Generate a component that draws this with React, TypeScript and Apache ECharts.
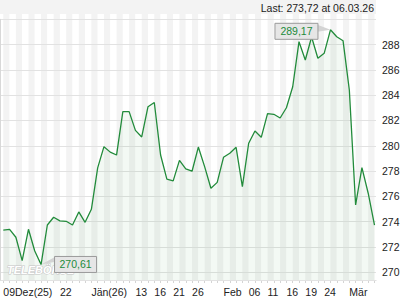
import React, { useEffect, useRef } from 'react';
import * as echarts from 'echarts';

const dates = [
  '09.12.25', '10.12.25', '11.12.25', '12.12.25', '15.12.25', '16.12.25', '17.12.25', '18.12.25', '19.12.25', '22.12.25',
  '23.12.25', '29.12.25', '30.12.25', '31.12.25', '02.01.26', '05.01.26', '06.01.26', '07.01.26', '08.01.26', '09.01.26',
  '12.01.26', '13.01.26', '14.01.26', '15.01.26', '16.01.26', '19.01.26', '20.01.26', '21.01.26', '22.01.26', '23.01.26',
  '26.01.26', '27.01.26', '28.01.26', '29.01.26', '30.01.26', '02.02.26', '03.02.26', '04.02.26', '05.02.26', '06.02.26',
  '09.02.26', '10.02.26', '11.02.26', '12.02.26', '13.02.26', '16.02.26', '17.02.26', '18.02.26', '19.02.26', '20.02.26',
  '23.02.26', '24.02.26', '25.02.26', '26.02.26', '27.02.26', '02.03.26', '03.03.26', '04.03.26', '05.03.26', '06.03.26',
];

const values = [
  273.34, 273.40, 272.77, 270.92, 273.40, 271.68, 270.61, 273.74, 274.35, 274.06,
  274.03, 273.74, 274.77, 273.95, 274.98, 278.25, 279.93, 279.50, 279.27, 282.70,
  282.70, 281.22, 280.70, 283.09, 283.42, 279.27, 277.36, 277.23, 278.85, 278.18,
  277.99, 279.90, 278.35, 276.64, 277.11, 279.09, 279.41, 279.88, 276.77, 280.20,
  281.17, 280.67, 282.54, 282.49, 282.20, 283.01, 284.67, 288.23, 286.78, 288.60,
  286.92, 287.31, 289.17, 288.62, 288.31, 284.41, 275.32, 278.27, 276.25, 273.72,
];

const tickIndex = [0, 9, 14, 21, 24, 27, 30, 35, 39, 42, 45, 48, 51, 55];
const tickText = ['09Dez(25)', '22', 'Jän(26)', '13', '16', '21', '26', 'Feb', '06', '11', '16', '19', '24', 'Mär'];

const FONT = '"Liberation Sans", Arial, sans-serif';
const GREEN = '#228b3b';

const fmt = (v: number) => v.toFixed(2).replace('.', ',');

export default function App() {
  const ref = useRef<HTMLDivElement>(null);
  useEffect(() => {
    const chart = echarts.init(ref.current!, null, { renderer: 'svg' });
    const yMin = 269.39;
    const yGridMax = 290;
    const yMax = 290.42;
    chart.setOption({
      animation: false,
      backgroundColor: '#ffffff',
      grid: [
        { left: 0, right: 44, top: 19.3, bottom: 20 },
        { left: 3.3, right: 45.5, top: 14, bottom: 20 },
      ],
      xAxis: [
        {
          type: 'value', gridIndex: 0, min: 0, max: 1,
          axisLine: { show: true, lineStyle: { color: '#d8d8d8' } },
          axisTick: { show: false }, axisLabel: { show: false }, splitLine: { show: false },
        },
        {
          type: 'category', gridIndex: 1, data: dates, boundaryGap: false, z: 0,
          axisLine: { show: false },
          axisTick: { show: true, interval: 0, length: 3, lineStyle: { color: '#d4d4d4' } },
          axisLabel: {
            interval: 0, align: 'left', margin: 6, fontSize: 10.5, color: '#222', fontFamily: FONT,
            formatter: (_v: string, i: number) => {
              const k = tickIndex.indexOf(i);
              return k >= 0 ? tickText[k] : '';
            },
          },
          splitLine: { show: false },
          splitArea: { show: true, interval: 0, areaStyle: { color: ['#f3f3f3', '#ffffff'] } },
        },
      ],
      yAxis: [
        {
          type: 'value', gridIndex: 0, position: 'right', min: yMin, max: yGridMax,
          minInterval: 2, maxInterval: 2, z: 1,
          axisLine: { show: true, lineStyle: { color: '#d8d8d8' } },
          axisTick: { show: false },
          axisLabel: {
            margin: 6, fontSize: 10.5, color: '#222', fontFamily: FONT,
            formatter: (v: number) => (Math.abs(v - Math.round(v)) < 1e-6 && v < yGridMax ? String(Math.round(v)) : ''),
          },
          splitLine: { show: true, lineStyle: { color: '#e2e2e2' } },
        },
        { type: 'value', gridIndex: 1, min: yMin, max: yMax, show: false },
      ],
      series: [
        {
          type: 'line', xAxisIndex: 1, yAxisIndex: 1, data: values, symbol: 'none', z: 2,
          lineStyle: { color: GREEN, width: 1.3 }, itemStyle: { color: GREEN },
          areaStyle: { color: 'rgba(34,139,59,0.08)', origin: 'start' },
        },
      ],
    });

    const iMax = values.indexOf(Math.max(...values));
    const iMin = values.indexOf(Math.min(...values));
    const [mx, my] = chart.convertToPixel({ xAxisIndex: 1, yAxisIndex: 1 }, [iMax, values[iMax]]) as number[];
    const [nx, ny] = chart.convertToPixel({ xAxisIndex: 1, yAxisIndex: 1 }, [iMin, values[iMin]]) as number[];
    const bw = 43, bh = 16;
    const maxBx = mx - 13 - bw, maxBy = my - 7;
    const minBx = nx + 13, minBy = ny - 8.6;
    const txt = (x: number, y: number, text: string, fill: string, size: number, align: string, extra: any = {}) => ({
      type: 'text', x, y, z: 10,
      style: {
        text, fill, font: `${size}px ${FONT}`, fontSize: size, fontFamily: FONT,
        align, textAlign: align, verticalAlign: 'middle', textVerticalAlign: 'middle', ...extra,
      },
    });
    const last = values[values.length - 1];
    chart.setOption({
      graphic: [
        { type: 'rect', z: 1, shape: { x: 0, y: 0, width: 376, height: 14 }, style: { fill: '#f3f3f3' } },
        txt(374, 7.5, `Last: ${fmt(last)} at ${dates[dates.length - 1]}`, '#222', 10.5, 'right'),
        {
          type: 'text', x: 7, y: 270, z: 9,
          style: {
            text: 'TELEBÖRSE', fill: '#ffffff', stroke: '#c4c4c4', lineWidth: 1,
            font: `italic bold 11px ${FONT}`, verticalAlign: 'middle', textVerticalAlign: 'middle',
          },
        },
        { type: 'polygon', z: 10, shape: { points: [[maxBx + bw, maxBy + 2], [maxBx + bw, maxBy + 9], [mx, my]] }, style: { fill: '#d4d4d4' } },
        { type: 'rect', z: 10, shape: { x: maxBx + 0.5, y: maxBy + 0.5, width: bw, height: bh }, style: { fill: '#e6e6e6', stroke: '#9a9a9a', lineWidth: 1 } },
        txt(maxBx + bw / 2 + 0.5, maxBy + bh / 2 + 0.5, fmt(values[iMax]), GREEN, 10.5, 'center'),
        { type: 'polygon', z: 10, shape: { points: [[minBx, minBy + 1.5], [minBx, minBy + 6], [nx, ny]] }, style: { fill: '#d4d4d4' } },
        { type: 'rect', z: 10, shape: { x: minBx + 0.5, y: minBy + 0.5, width: bw - 1, height: bh }, style: { fill: '#e6e6e6', stroke: '#9a9a9a', lineWidth: 1 } },
        txt(minBx + (bw - 1) / 2 + 0.5, minBy + bh / 2 + 0.5, fmt(values[iMin]), GREEN, 10.5, 'center'),
      ],
    });
    return () => chart.dispose();
  }, []);
  return <div ref={ref} style={{ position: 'fixed', left: 0, top: 0, width: 420, height: 300 }} />;
}
